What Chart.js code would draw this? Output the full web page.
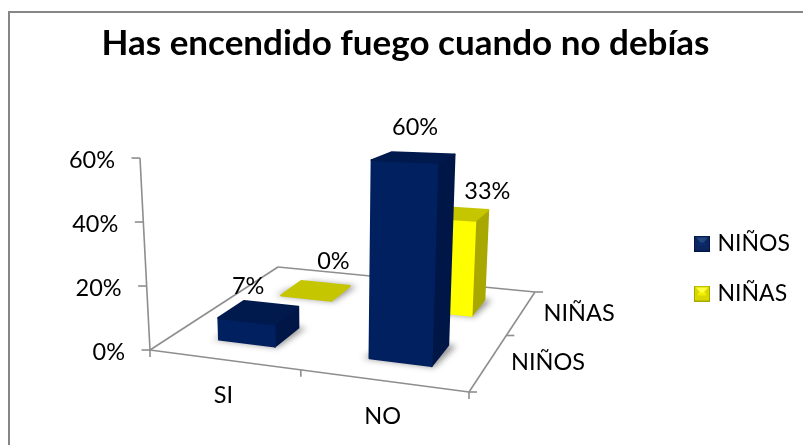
<!DOCTYPE html>
<html><head><meta charset="utf-8">
<style>html,body{margin:0;padding:0;background:#fff}canvas{display:block}</style>
<script src="https://cdn.jsdelivr.net/npm/chart.js@4"></script>
</head><body><canvas id="c" width="803" height="445"></canvas>
<script>
const categories = ['SI', 'NO'];
const seriesNames = ['NIÑOS', 'NIÑAS'];
const ninos = [7, 60];
const ninas = [0, 33];
const yTicks = [0, 20, 40, 60];

const FONT = 'Lato';
const TEXT = '#000';
const AXIS = '#8e8e8e';
const palette = [
  {front:'#00205f', side:'#001646', top:'#001a4e', edge:'#0a2c6e', legendA:'#23467f', legendB:'#0b2560'},
  {front:'#ffff00', side:'#a8a800', top:'#c6c600', edge:'#f0f000', legendA:'#ffff40', legendB:'#d8d800'}
];
const labelNudge = [[[-9,-26],[3,-30]], [[19,-29],[35,-22]]];

// floor quadrilateral -> perspective
const Q = [[150,350],[469,392],[535,292],[278,267]];
const VP = [332,3840];
const RISE = 0.055, HALF = 0.1;
const H = (()=>{
  const [p0,p1,p2,p3]=Q;
  const dx1=p1[0]-p2[0],dx2=p3[0]-p2[0],sx=p0[0]-p1[0]+p2[0]-p3[0];
  const dy1=p1[1]-p2[1],dy2=p3[1]-p2[1],sy=p0[1]-p1[1]+p2[1]-p3[1];
  const den=dx1*dy2-dx2*dy1;
  const g=(sx*dy2-dx2*sy)/den,h=(dx1*sy-sx*dy1)/den;
  return {a:p1[0]-p0[0]+g*p1[0],b:p3[0]-p0[0]+h*p3[0],c:p0[0],d:p1[1]-p0[1]+g*p1[1],e:p3[1]-p0[1]+h*p3[1],f:p0[1],g,h};
})();
function project(u,w,f){
  const n=1+H.g*u+H.h*w;
  const x=(H.a*u+H.b*w+H.c)/n, y=(H.d*u+H.e*w+H.f)/n;
  const s=RISE*f/Math.pow(n,1.35);
  return [x-(VP[0]-x)*s, y-(VP[1]-y)*s];
}
function poly(ctx,pts){ctx.beginPath();pts.forEach((p,i)=>i?ctx.lineTo(p[0],p[1]):ctx.moveTo(p[0],p[1]));ctx.closePath();}
function seg(ctx,a,b){ctx.beginPath();ctx.moveTo(a[0],a[1]);ctx.lineTo(b[0],b[1]);ctx.stroke();}
function face(ctx,pts,col){poly(ctx,pts);ctx.fillStyle=col;ctx.strokeStyle=col;ctx.lineWidth=2;ctx.lineJoin='round';ctx.fill();ctx.stroke();}

function marker(c){
  const k=document.createElement('canvas');k.width=16;k.height=16;
  const x=k.getContext('2d');
  x.fillStyle=c.legendB;x.fillRect(0,0,16,16);
  x.fillStyle=c.legendA;x.beginPath();x.moveTo(2,2);x.lineTo(14,2);x.lineTo(8,9);x.closePath();x.fill();
  x.fillStyle=c.edge;x.fillRect(4,7,8,3);
  x.strokeStyle=c.side;x.lineWidth=1;x.strokeRect(.5,.5,15,15);
  return k;
}
const markers=palette.map(marker);

const helper={
  id:'scene',
  beforeDraw(chart){
    const ctx=chart.ctx;ctx.save();
    ctx.strokeStyle='#868686';ctx.lineWidth=2;
    ctx.beginPath();ctx.moveTo(9,445);ctx.lineTo(9,12);ctx.lineTo(803,12);ctx.stroke();
    ctx.restore();
  },
  afterLayout(chart){
    const l=chart.legend;const w=l.width,h=l.height;
    l.left=671;l.right=l.left+w;l.top=205;l.bottom=l.top+h;
  },
  beforeDatasetDraw(){return false;},
  beforeDatasetsDraw(chart){
    const ctx=chart.ctx,y=chart.scales.y,x=chart.scales.x,z=chart.scales.z;
    ctx.save();ctx.strokeStyle=AXIS;ctx.lineWidth=1.6;
    const c00=project(0,0,0),c10=project(1,0,0),c11=project(1,1,0),c01=project(0,1,0),top=project(0,0,1);
    seg(ctx,c00,c10);seg(ctx,c10,c11);seg(ctx,c11,c01);seg(ctx,c01,c00);seg(ctx,c00,top);
    ctx.font='23.5px '+FONT;ctx.fillStyle=TEXT;ctx.textBaseline='middle';
    y.ticks.forEach(t=>{
      const p=project(0,0,t.value/y.max);
      seg(ctx,p,[p[0]-8.5,p[1]]);
      ctx.textAlign='right';ctx.fillText(t.label,p[0]-25,p[1]+2);
    });
    [0,.5,1].forEach(u=>{const p=project(u,0,0);seg(ctx,p,[p[0],p[1]+7]);});
    [0,.5,1].forEach(w=>{const p=project(1,w,0);seg(ctx,p,[p[0]+8,p[1]]);});
    categories.forEach((c,i)=>{
      const u=(x.getPixelForValue(i)-x.left)/x.width;
      const p=project(u,0,0);
      ctx.textAlign='center';ctx.fillText(c,p[0],p[1]+36);
    });
    seriesNames.forEach((c,i)=>{
      const w=(z.getPixelForValue(i)-z.left)/z.width;
      const p=project(1,w,0);
      ctx.textAlign='left';ctx.fillText(c,p[0]+22,p[1]+1);
    });
    ctx.restore();
  },
  afterDatasetsDraw(chart){
    const ctx=chart.ctx,x=chart.scales.x,y=chart.scales.y,z=chart.scales.z;
    const items=[];
    chart.data.datasets.forEach((ds,di)=>ds.data.forEach((v,i)=>{
      items.push({di,i,v,
        u:(x.getPixelForValue(i)-x.left)/x.width,
        w:(z.getPixelForValue(di)-z.left)/z.width,
        f:(y.bottom-y.getPixelForValue(v))/y.height});
    }));
    items.sort((a,b)=>b.w-a.w||a.u-b.u);
    ctx.save();
    items.forEach(b=>{
      const c=palette[b.di];
      const u0=b.u-HALF+.008,u1=b.u+HALF,w0=b.w-HALF+.008,w1=b.w+HALF;
      // shadow on the floor
      ctx.save();ctx.filter='blur(3px)';ctx.fillStyle='rgba(110,110,110,.75)';
      poly(ctx,[project(u0-.02,w0-.003,0),project(u1+.01,w0-.006,0),project(u1+.025,w1+.005,0),project(u0+.04,w1,0)]);ctx.fill();
      ctx.restore();
      const A=[project(u0,w0,0),project(u1,w0,0),project(u1,w1,0)];
      const T=[project(u0,w0,b.f),project(u1,w0,b.f),project(u1,w1,b.f),project(u0,w1,b.f)];
      if(b.f>0){
        face(ctx,[A[1],A[2],T[2],T[1]],c.side);
        face(ctx,[A[0],A[1],T[1],T[0]],c.front);
      }
      face(ctx,T,c.top);
    });
    ctx.font='23.5px '+FONT;ctx.fillStyle=TEXT;ctx.textAlign='center';ctx.textBaseline='middle';
    items.forEach(b=>{
      const p=project(b.u,b.w,b.f),n=labelNudge[b.di][b.i];
      ctx.fillText(b.v+'%',p[0]+n[0],p[1]+n[1]);
    });
    ctx.restore();
  }
};

new Chart(document.getElementById('c'),{
  type:'bar',
  data:{labels:categories,datasets:[
    {label:seriesNames[0],data:ninos,backgroundColor:palette[0].front,grouped:false},
    {label:seriesNames[1],data:ninas,backgroundColor:palette[1].front,grouped:false}
  ]},
  plugins:[helper],
  options:{
    responsive:false,animation:false,
    layout:{padding:{left:8,right:0,top:0,bottom:0}},
    scales:{
      x:{type:'category',display:false,offset:true},
      z:{type:'category',labels:seriesNames,display:false,offset:true,axis:'x',position:'bottom'},
      y:{type:'linear',display:false,min:0,max:60,afterBuildTicks(s){s.ticks=yTicks.map(value=>({value}));},ticks:{callback:v=>v+'%'}}
    },
    plugins:{
      tooltip:{enabled:false},
      title:{display:true,text:'Has encendido fuego cuando no debías',color:TEXT,
        font:{family:FONT,size:35,weight:'bold'},padding:{top:23,bottom:12}},
      legend:{display:true,position:'right',align:'start',
        labels:{usePointStyle:true,pointStyleWidth:8,padding:27,color:TEXT,font:{family:FONT,size:23},
          generateLabels(ch){
            return Chart.defaults.plugins.legend.labels.generateLabels(ch).map((l,i)=>({...l,pointStyle:markers[i]}));
          }}}
    }
  }
});
</script></body></html>
